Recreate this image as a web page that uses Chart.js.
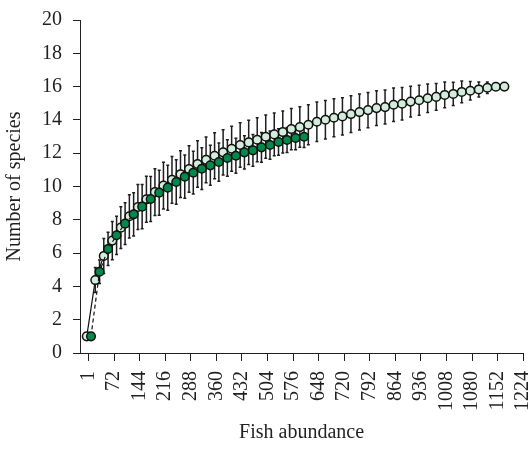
<!DOCTYPE html>
<html>
<head>
<meta charset="utf-8">
<script src="https://cdn.jsdelivr.net/npm/chart.js@4.4.1/dist/chart.umd.min.js"></script>
<style>
  html, body { margin: 0; padding: 0; background: #fff; }
  #wrap { width: 529px; height: 450px; }
</style>
</head>
<body>
<div id="wrap"><canvas id="chart" width="529" height="450"></canvas></div>
<script>
// Curvas de acumulación de especies

const sampleSizes = [1, 25, 49, 73, 97, 121, 145, 169, 193, 217, 241, 265, 289, 313, 337, 361, 385,
  409, 433, 457, 481, 505, 529, 553, 577, 601, 625, 649, 673, 697, 721, 745, 769, 793, 817, 841,
  865, 889, 913, 937, 961, 985, 1009, 1033, 1057, 1081, 1105, 1129, 1153, 1177];

const totalSpecies = [1.0, 4.38, 5.83, 6.75, 7.53, 8.21, 8.77, 9.23, 9.66, 10.05, 10.40, 10.74, 11.05,
  11.35, 11.6, 11.85, 12.05, 12.27, 12.49, 12.65, 12.81, 12.99, 13.13, 13.27, 13.45, 13.57, 13.71,
  13.89, 14.01, 14.13, 14.21, 14.35, 14.47, 14.59, 14.71, 14.77, 14.91, 14.97, 15.10, 15.18, 15.30,
  15.38, 15.50, 15.56, 15.68, 15.75, 15.83, 15.93, 15.99, 16.0];
const totalSd = [0, 0.75, 1.05, 1.15, 1.25, 1.3, 1.35, 1.38, 1.4, 1.4, 1.4, 1.4, 1.4, 1.4, 1.38,
  1.38, 1.36, 1.35, 1.34, 1.33, 1.32, 1.3, 1.28, 1.26, 1.24, 1.22, 1.2, 1.18, 1.16, 1.14, 1.12,
  1.1, 1.08, 1.06, 1.04, 1.02, 1.0, 0.98, 0.92, 0.9, 0.86, 0.8, 0.77, 0.7, 0.65, 0.55, 0.45, 0.35,
  0.2, 0];

const subsetSpecies = [1.0, 4.88, 6.25, 7.07, 7.77, 8.33, 8.79, 9.25, 9.63, 9.93, 10.27, 10.59, 10.83,
  11.07, 11.27, 11.47, 11.71, 11.85, 12.05, 12.17, 12.35, 12.49, 12.67, 12.79, 12.91, 12.99];
const subsetSd = [0, 0.7, 1.0, 1.15, 1.25, 1.3, 1.33, 1.35, 1.35, 1.35, 1.33, 1.3, 1.28, 1.25, 1.2,
  1.15, 1.1, 1.05, 1.0, 0.95, 0.9, 0.85, 0.8, 0.75, 0.7, 0.65];

const xTicks = [1, 72, 144, 216, 288, 360, 432, 504, 576, 648, 720, 792, 864, 936, 1008, 1080, 1152, 1224];
const yTicks = [0, 2, 4, 6, 8, 10, 12, 14, 16, 18, 20];

const FONT = "'Liberation Serif', 'DejaVu Serif', serif";
const INK = '#231f20';
const DODGE = 6; // desplazamiento horizontal entre series

function points(values, shift) {
  return values.map((v, i) => ({ x: sampleSizes[i] + shift, y: v }));
}

// barras de error dibujadas con las escalas del gráfico
const errorBars = {
  id: 'errorBars',
  beforeDatasetsDraw(chart) {
    const { ctx, scales: { x, y } } = chart;
    ctx.save();
    ctx.strokeStyle = '#1e1e1e';
    ctx.lineWidth = 1.5;
    chart.data.datasets.forEach((ds) => {
      if (!ds.errors) return;
      ds.data.forEach((p, i) => {
        const e = ds.errors[i];
        if (!e) return;
        const px = x.getPixelForValue(p.x);
        const top = y.getPixelForValue(p.y + e);
        const bot = y.getPixelForValue(p.y - e);
        ctx.beginPath();
        ctx.moveTo(px, top); ctx.lineTo(px, bot);
        ctx.moveTo(px - 1.5, top); ctx.lineTo(px + 1.5, top);
        ctx.moveTo(px - 1.5, bot); ctx.lineTo(px + 1.5, bot);
        ctx.stroke();
      });
    });
    ctx.restore();
  }
};

new Chart(document.getElementById('chart'), {
  type: 'scatter',
  data: {
    datasets: [
      {
        label: 'subset',
        data: points(subsetSpecies, DODGE),
        errors: subsetSd,
        showLine: true,
        borderColor: '#111',
        borderWidth: 1.2,
        borderDash: [4, 3],
        pointBackgroundColor: '#00894a',
        pointBorderColor: '#111',
        pointBorderWidth: 1.5,
        pointRadius: 4.3,
        order: 1
      },
      {
        label: 'total',
        data: points(totalSpecies, -DODGE),
        errors: totalSd,
        showLine: true,
        borderColor: '#111',
        borderWidth: 1.2,
        pointBackgroundColor: '#d3ecdc',
        pointBorderColor: '#111',
        pointBorderWidth: 1.5,
        pointRadius: 4.3,
        order: 2
      }
    ]
  },
  options: {
    responsive: false,
    animation: false,
    layout: { padding: { top: 20, right: 5.5, left: 0, bottom: 0 } },
    plugins: { legend: { display: false }, tooltip: { enabled: false } },
    scales: {
      x: {
        type: 'linear',
        min: -24,
        max: 1224,
        afterBuildTicks: (s) => { s.ticks = xTicks.map(v => ({ value: v })); },
        afterFit: (s) => { s.height = 97; s.paddingLeft = 0; s.paddingRight = 0; },
        grid: { drawOnChartArea: false, drawTicks: true, tickLength: 8, color: INK, lineWidth: 1 },
        border: { color: INK, width: 1 },
        ticks: {
          autoSkip: false,
          minRotation: 90, maxRotation: 90, padding: 10,
          color: INK, font: { family: FONT, size: 20 },
          callback: (v) => String(v)
        },
        title: {
          display: true, text: 'Fish abundance', color: INK,
          font: { family: FONT, size: 20 }, padding: { top: 4, bottom: 5 }
        }
      },
      y: {
        min: 0,
        max: 20,
        afterBuildTicks: (s) => { s.ticks = yTicks.map(v => ({ value: v })); },
        afterFit: (s) => { s.width = 80; s.paddingTop = 0; s.paddingBottom = 0; },
        grid: { drawOnChartArea: false, drawTicks: true, tickLength: 7, color: INK, lineWidth: 1 },
        border: { color: INK, width: 1 },
        ticks: { padding: 11, color: INK, font: { family: FONT, size: 20 } },
        title: {
          display: true, text: 'Number of species', color: INK,
          font: { family: FONT, size: 20 }, padding: { top: 3, bottom: 4 }
        }
      }
    }
  },
  plugins: [errorBars]
});
</script>
</body>
</html>
